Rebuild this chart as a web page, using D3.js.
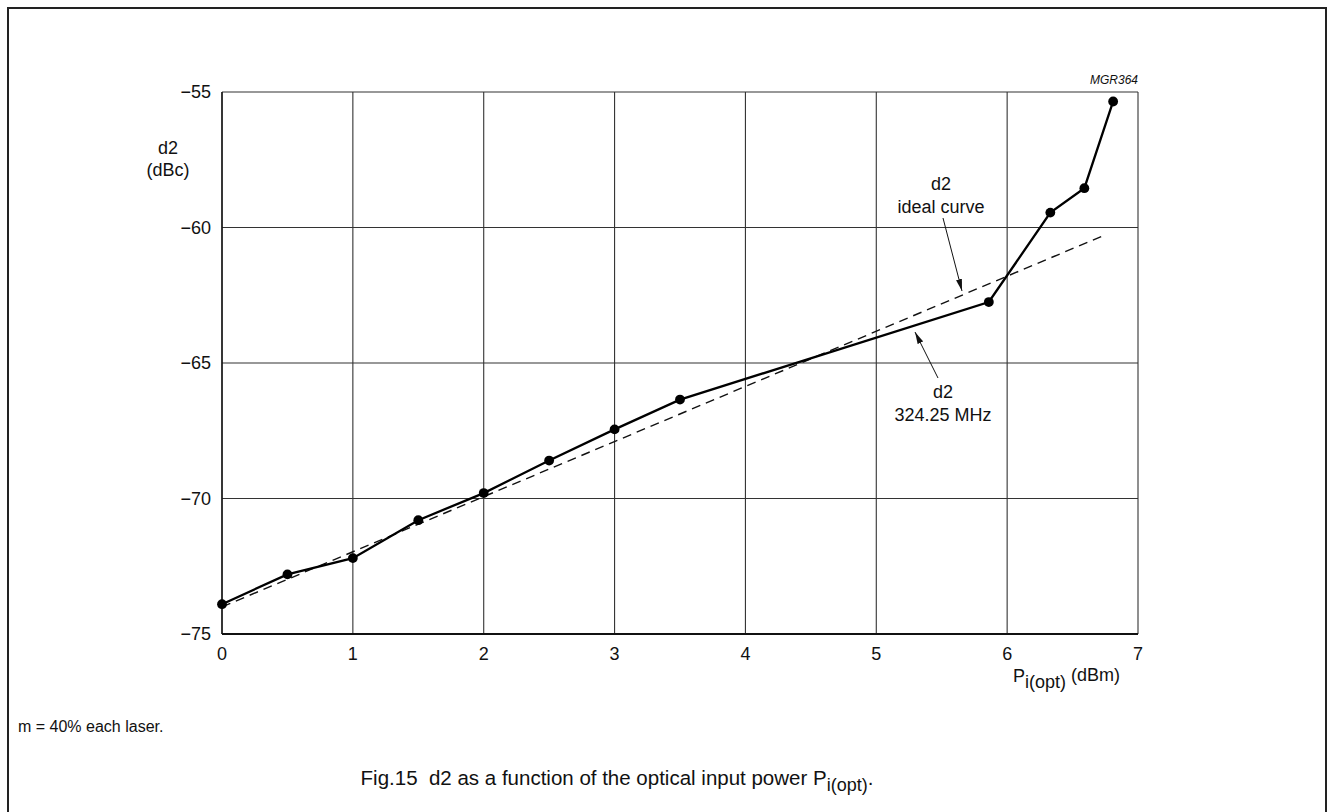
<!DOCTYPE html>
<html><head><meta charset="utf-8">
<script src="https://cdn.jsdelivr.net/npm/d3@7"></script>
<style>body{margin:0;background:#fff}svg{display:block}text{font-family:"Liberation Sans",Arial,sans-serif;fill:#111;white-space:pre}</style>
</head><body><svg id="c" width="1329" height="812"></svg>
<script>
const measuredX = [0, 0.5, 1.0, 1.5, 2.0, 2.5, 3.0, 3.5, 5.86, 6.33, 6.59, 6.81];
const measuredY = [-73.9, -72.8, -72.2, -70.8, -69.8, -68.6, -67.45, -66.35, -62.75, -59.45, -58.55, -55.35];
const idealX = [0, 6.76];
const idealY = [-74.0, -60.25];
const xTicks = [0, 1, 2, 3, 4, 5, 6, 7];
const yTicks = [-75, -70, -65, -60, -55];

const svg = d3.select("#c");
const x = d3.scaleLinear().domain([0, 7]).range([222, 1138]);
const y = d3.scaleLinear().domain([-75, -55]).range([634, 92]);

// frame
svg.append("path").attr("d","M8,820 V8 H1326 V820").attr("fill","none").attr("stroke","#222").attr("stroke-width",2);

// grid
const g = svg.append("g").attr("stroke","#333").attr("stroke-width",1.1);
xTicks.forEach(t => g.append("line").attr("x1",x(t)).attr("x2",x(t)).attr("y1",y(-75)).attr("y2",y(-55)));
yTicks.forEach(t => g.append("line").attr("x1",x(0)).attr("x2",x(7)).attr("y1",y(t)).attr("y2",y(t)));
svg.append("line").attr("x1",x(0)).attr("x2",x(7)).attr("y1",y(-75)).attr("y2",y(-75)).attr("stroke","#111").attr("stroke-width",1.8);
svg.append("line").attr("x1",x(0)).attr("x2",x(0)).attr("y1",y(-75)).attr("y2",y(-55)).attr("stroke","#111").attr("stroke-width",1.4);

// tick labels
svg.selectAll(".yt").data(yTicks).enter().append("text")
  .attr("x",211).attr("y",d=>y(d)).attr("dy","0.36em").attr("text-anchor","end")
  .style("font-size","18px").text(d=>"\u2212"+Math.abs(d));
svg.selectAll(".xt").data(xTicks).enter().append("text")
  .attr("x",d=>x(d)).attr("y",660).attr("text-anchor","middle")
  .style("font-size","18px").text(d=>d);

// axis titles
const yl = svg.append("text").attr("text-anchor","middle").style("font-size","18px");
yl.append("tspan").attr("x",168).attr("y",154).text("d2");
yl.append("tspan").attr("x",168).attr("y",176).text("(dBc)");
const xl = svg.append("text").attr("x",1013).attr("y",682).style("font-size","18px");
xl.append("tspan").text("P");
xl.append("tspan").attr("dy",6).text("i(opt)");
xl.append("tspan").attr("dy",-7).text(" (dBm)");

svg.append("text").attr("x",1138).attr("y",84).attr("text-anchor","end")
  .style("font-size","12px").style("font-style","italic").text("MGR364");

// ideal dashed line
const line = d3.line().x(d=>x(d[0])).y(d=>y(d[1]));
svg.append("path").datum(d3.zip(idealX, idealY)).attr("d",line)
  .attr("fill","none").attr("stroke","#111").attr("stroke-width",1.4).attr("stroke-dasharray","9,6");

// measured line
const meas = d3.zip(measuredX, measuredY);
svg.append("path").datum(meas).attr("d",line).attr("fill","none").attr("stroke","#000").attr("stroke-width",2.3);
svg.selectAll(".pt").data(meas).enter().append("circle")
  .attr("cx",d=>x(d[0])).attr("cy",d=>y(d[1])).attr("r",4.9).attr("fill","#000");

// annotations
svg.append("defs").append("marker").attr("id","ah").attr("viewBox","0 0 12 6")
  .attr("refX",12).attr("refY",3).attr("markerWidth",12).attr("markerHeight",6)
  .attr("markerUnits","userSpaceOnUse").attr("orient","auto")
  .append("path").attr("d","M0,0 L12,3 L0,6 Z").attr("fill","#111");

function note(tx, ty, lines, ax1, ay1, ax2, ay2){
  const t = svg.append("text").attr("text-anchor","middle").style("font-size","18px");
  lines.forEach((l,i)=>t.append("tspan").attr("x",tx).attr("y",ty+i*23).text(l));
  svg.append("line").attr("x1",ax1).attr("y1",ay1).attr("x2",ax2).attr("y2",ay2)
    .attr("stroke","#111").attr("stroke-width",1).attr("marker-end","url(#ah)");
}
note(941, 190, ["d2","ideal curve"], 943, 218, 962, 291);
note(943, 398, ["d2","324.25 MHz"], 938, 378, 915, 332);

// footnote & caption
svg.append("text").attr("x",18).attr("y",732).style("font-size","16px").text("m = 40% each laser.");
const cap = svg.append("text").attr("x",617).attr("y",785).attr("text-anchor","middle").style("font-size","20.5px");
cap.append("tspan").text("Fig.15  d2 as a function of the optical input power P");
cap.append("tspan").attr("dy",6).style("font-size","18px").text("i(opt)");
cap.append("tspan").attr("dy",-6).text(".");
</script></body></html>
